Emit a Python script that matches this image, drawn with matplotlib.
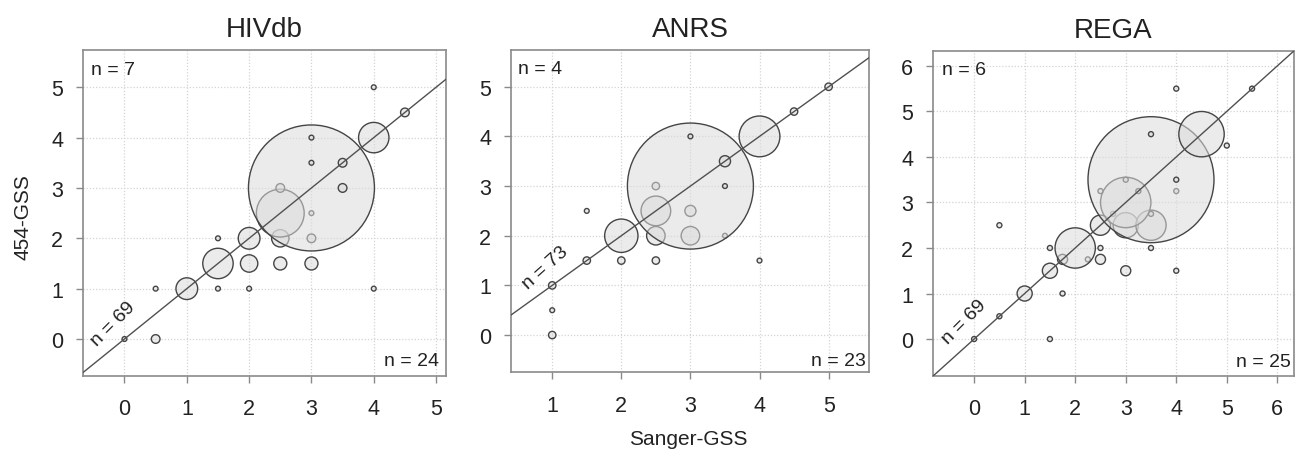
import matplotlib
matplotlib.use("Agg")
import matplotlib.pyplot as plt

plt.rcParams['font.family'] = ['Liberation Sans', 'DejaVu Sans']

# ---- data -------------------------------------------------------------
titles = ["HIVdb", "ANRS", "REGA"]

hiv_x = [0, 0.5, 0.5, 1, 1.5, 1.5, 1.5, 2, 2, 2, 2.5, 2.5, 2.5, 2.5,
         3, 3, 3, 3, 3, 3, 3.5, 3.5, 4, 4, 4, 4.5]
hiv_y = [0, 0, 1, 1, 1, 1.5, 2, 1, 1.5, 2, 1.5, 2, 2.5, 3,
         1.5, 2, 2.5, 3, 3.5, 4, 3, 3.5, 1, 4, 5, 4.5]
hiv_n = [1, 2, 1, 5, 1, 7, 1, 1, 4, 5, 3, 4, 11, 2,
         3, 2, 1, 29, 1, 1, 2, 2, 1, 7, 1, 2]

anrs_x = [1, 1, 1, 1.5, 1.5, 2, 2, 2.5, 2.5, 2.5, 2.5,
          3, 3, 3, 3, 3.5, 3.5, 3.5, 4, 4, 4.5, 5]
anrs_y = [0, 0.5, 1, 1.5, 2.5, 1.5, 2, 1.5, 2, 2.5, 3,
          2, 2.5, 3, 4, 2, 3, 3.5, 1.5, 4, 4.5, 5]
anrs_n = [2, 1, 2, 2, 1, 2, 9, 2, 5, 8, 2,
          5, 3, 34, 1, 1, 1, 3, 1, 11, 2, 2]

rega_x = [0, 0.5, 0.5, 1, 1.5, 1.5, 1.5, 1.75, 1.75, 2, 2.25,
          2.5, 2.5, 2.5, 2.5, 2.75, 3, 3, 3, 3, 3.25,
          3.5, 3.5, 3.5, 3.5, 3.5, 4, 4, 4, 4, 4.5, 5, 5.5]
rega_y = [0, 0.5, 2.5, 1, 0, 1.5, 2, 1, 1.75, 2, 1.75,
          1.75, 2, 2.5, 3.25, 2.75, 1.5, 2.5, 3, 3.5, 3.25,
          2, 2.5, 2.75, 3.5, 4.5, 1.5, 3.25, 3.5, 5.5, 4.5, 4.25, 5.5]
rega_n = [1, 1, 1, 3, 1, 3, 1, 1, 2, 8, 1,
          2, 1, 4, 1, 1, 2, 5, 10, 1, 1,
          1, 6, 1, 25, 1, 1, 1, 1, 1, 9, 1, 1]

x_ticks = [[0, 1, 2, 3, 4, 5], [1, 2, 3, 4, 5], [0, 1, 2, 3, 4, 5, 6]]
y_ticks = [[0, 1, 2, 3, 4, 5], [0, 1, 2, 3, 4, 5], [0, 1, 2, 3, 4, 5, 6]]

xlabel = "Sanger-GSS"
ylabel = "454-GSS"

# ---- layout / style -----------------------------------------------------
panels = [(hiv_x, hiv_y, hiv_n), (anrs_x, anrs_y, anrs_n), (rega_x, rega_y, rega_n)]
rects = [[0.0638, 0.1659, 0.2801, 0.7213],
         [0.3938, 0.1741, 0.2765, 0.7131],
         [0.7191, 0.1666, 0.2786, 0.7177]]
xlims = [(-0.67, 5.16), (0.40, 5.59), (-0.82, 6.33)]
ylims = [(-0.735, 5.74), (-0.75, 5.74), (-0.805, 6.32)]
diag_pos = [(-0.186, 0.312, 45), (0.894, 1.363, 42), (-0.19, 0.39, 45)]
up_pos = [(0.022, 0.926), (0.021, 0.929), (0.025, 0.930)]
low_pos = [(0.981, 0.034), (0.991, 0.023), (0.991, 0.031)]

DPI = 100
fig = plt.figure(figsize=(12.97, 4.52), dpi=DPI)

spine_col = "#8a8a8a"
text_col = "#222222"
max_diam_px = 126.0

for i, ((xs, ys, ns), title) in enumerate(zip(panels, titles)):
    ax = fig.add_axes(rects[i])
    ax.set_xlim(*xlims[i])
    ax.set_ylim(*ylims[i])
    ax.set_xticks(x_ticks[i])
    ax.set_yticks(y_ticks[i])
    ax.set_axisbelow(True)
    ax.grid(True, color="#d4d4d4", linestyle=(0, (1, 1.5)), linewidth=0.9)
    for sp in ax.spines.values():
        sp.set_color(spine_col)
        sp.set_linewidth(1.2)
    ax.tick_params(axis="both", direction="out", length=5, width=1,
                   color=spine_col, labelsize=15.5, labelcolor=text_col)
    ax.tick_params(axis="x", pad=11)
    ax.tick_params(axis="y", pad=9)

    # draw order: by y then x
    order = sorted(range(len(xs)), key=lambda k: (ys[k], xs[k]))
    nmax = max(ns)
    sx = [xs[k] for k in order]
    sy = [ys[k] for k in order]
    sizes = [((max(max_diam_px * ns[k] / nmax, 4.8)) * 72.0 / DPI) ** 2 for k in order]
    ax.scatter(sx, sy, s=sizes, facecolor=(0.86, 0.86, 0.86, 0.55),
               edgecolor="#454545", linewidths=1.0, zorder=2)

    ax.axline((0, 0), slope=1, color="#505050", linewidth=1.0, zorder=3)

    n_diag = sum(n for x, y, n in zip(xs, ys, ns) if x == y)
    n_up = sum(n for x, y, n in zip(xs, ys, ns) if y > x)
    n_low = sum(n for x, y, n in zip(xs, ys, ns) if y < x)

    ax.text(up_pos[i][0], up_pos[i][1], f"n = {n_up}", transform=ax.transAxes,
            ha="left", va="baseline", fontsize=14, color=text_col)
    ax.text(low_pos[i][0], low_pos[i][1], f"n = {n_low}", transform=ax.transAxes,
            ha="right", va="baseline", fontsize=14, color=text_col)
    dx, dy, rot = diag_pos[i]
    ax.text(dx, dy, f"n = {n_diag}", rotation=rot, rotation_mode="anchor",
            ha="center", va="center", fontsize=14, color=text_col, zorder=4)

    ax.set_title(title, fontsize=20, pad=10, color=text_col)

fig.text(0.5305, 0.015, xlabel, ha="center", va="baseline", fontsize=15, color=text_col)
fig.text(0.0177, 0.52, ylabel, ha="center", va="center", rotation=90,
         fontsize=15, color=text_col)

fig.savefig("out.png", dpi=DPI)
